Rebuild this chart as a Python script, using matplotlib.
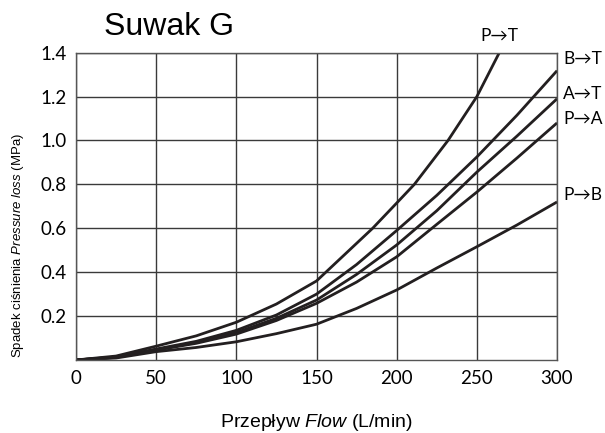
import matplotlib.pyplot as plt

plt.rcParams['mathtext.fontset'] = 'custom'
plt.rcParams['mathtext.rm'] = 'Liberation Sans'
plt.rcParams['mathtext.it'] = 'Liberation Sans:italic'

# flow (L/min) vs pressure loss (MPa)
flow = [0, 25, 50, 75, 100, 125, 150, 175, 200, 225, 250, 275, 300]
flow_pt = [0, 25, 50, 75, 100, 125, 150, 185, 200, 211, 232, 250, 264]

dp_pt = [0, 0.018, 0.063, 0.11, 0.172, 0.255, 0.36, 0.6, 0.715, 0.8, 1.0, 1.2, 1.4]
dp_bt = [0, 0.014, 0.05, 0.085, 0.135, 0.205, 0.30, 0.435, 0.59, 0.75, 0.925, 1.115, 1.318]
dp_at = [0, 0.013, 0.047, 0.08, 0.125, 0.19, 0.273, 0.39, 0.524, 0.68, 0.856, 1.02, 1.19]
dp_pa = [0, 0.012, 0.045, 0.076, 0.118, 0.18, 0.258, 0.355, 0.47, 0.618, 0.765, 0.92, 1.08]
dp_pb = [0, 0.009, 0.038, 0.057, 0.083, 0.12, 0.163, 0.235, 0.319, 0.419, 0.516, 0.615, 0.72]

labels = ['B\u2192T', 'A\u2192T', 'P\u2192A', 'P\u2192B']
label_y = [1.37, 1.21, 1.10, 0.75]

xticks = [0, 50, 100, 150, 200, 250, 300]
yticks = [0.2, 0.4, 0.6, 0.8, 1.0, 1.2, 1.4]

lc = '#231f20'
gc = '#3a3a3a'
lw = 2.0

fig = plt.figure(figsize=(6.05, 4.33), dpi=100)
ax = fig.add_axes([0.1256, 0.1686, 0.7951, 0.7097])

ax.plot(flow_pt, dp_pt, color=lc, lw=lw, solid_capstyle='butt')
for dp in [dp_bt, dp_at, dp_pa, dp_pb]:
    ax.plot(flow, dp, color=lc, lw=lw, solid_capstyle='butt')

ax.set_xlim(0, 300)
ax.set_ylim(0, 1.4)
ax.set_xticks(xticks)
ax.set_yticks(yticks)
ax.set_xticklabels([str(v) for v in xticks])
ax.set_yticklabels(['%.1f' % v for v in yticks])
ax.grid(True, color=gc, lw=1.0)
ax.set_axisbelow(True)
for s in ax.spines.values():
    s.set_color('#555555')
    s.set_linewidth(1.0)
ax.tick_params(length=0, labelsize=13.5, pad=7)
for t in ax.get_xticklabels() + ax.get_yticklabels():
    t.set_family(['Lato', 'DejaVu Sans'])

ax.set_xlabel(r'Przepływ $\it{Flow}$ (L/min)', fontsize=14,
              family='Liberation Sans', labelpad=18)
fig.text(0.03, 0.434, r'Spadek ciśnienia $\it{Pressure\ loss}$ (MPa)', rotation=90,
         fontsize=9.5, family='Liberation Sans', ha='center', va='center')
fig.text(0.172, 0.938, 'Suwak G', fontsize=23, family='Liberation Sans',
         ha='left', va='center')

ax.text(264, 1.475, 'P\u2192T', fontsize=12.5, family=['Lato', 'DejaVu Sans'],
        ha='center', va='center')
for lab, y in zip(labels, label_y):
    ax.text(304, y, lab, fontsize=12.5, family=['Lato', 'DejaVu Sans'],
            ha='left', va='center')

plt.savefig('out.png', dpi=100)
plt.close()
